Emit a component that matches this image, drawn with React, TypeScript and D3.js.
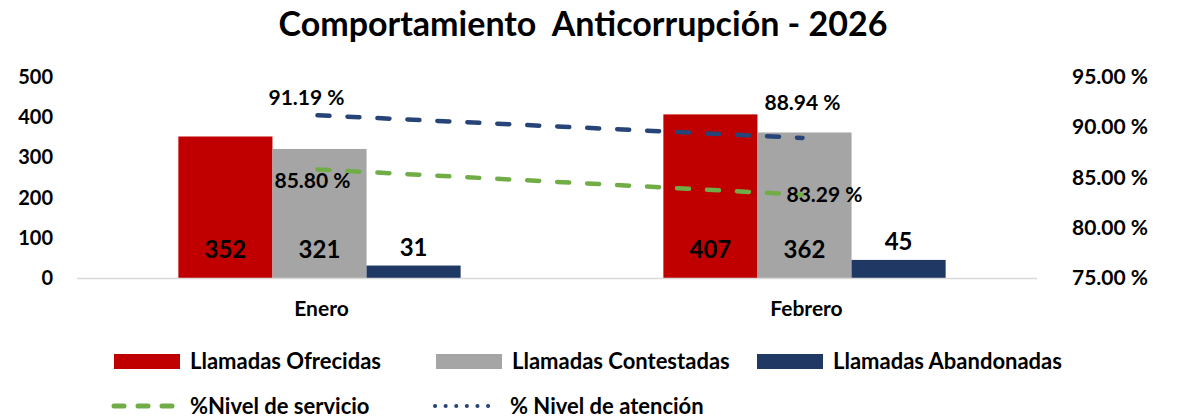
import React from "react";
import * as d3 from "d3";

const categories = ["Enero", "Febrero"];
const barSeries = ["Llamadas Ofrecidas", "Llamadas Contestadas", "Llamadas Abandonadas"];
const ofrecidas = [352, 407];
const contestadas = [321, 362];
const abandonadas = [31, 45];
const nivelServicio = [85.8, 83.29];
const nivelAtencion = [91.19, 88.94];
const leftTicks = [0, 100, 200, 300, 400, 500];
const rightTicks = [75, 80, 85, 90, 95];

const barColors = ["#c00000", "#a5a5a5", "#203864"];
const greenColor = "#70ad47";
const blueColor = "#264478";
const FONT = "Lato, 'Open Sans', sans-serif";

export default function App() {
  const W = 1178, H = 419;
  const left = 77, right = 1037, top = 77, bottom = 278;
  const x0 = d3.scaleBand<string>().domain(categories).range([77, 1047]).paddingInner(0.418).paddingOuter(0.209);
  const x1 = d3.scaleBand<string>().domain(barSeries).range([0, x0.bandwidth()]);
  const yL = d3.scaleLinear().domain([0, 500]).range([bottom, top]);
  const yR = d3.scaleLinear().domain([75, 95]).range([bottom, top]);
  const barData = [ofrecidas, contestadas, abandonadas];
  const cx = (c: string) => (x0(c) as number) + x0.bandwidth() / 2;
  const line = d3.line<number>().x((_, i) => cx(categories[i]) - 2).y((d) => yR(d));
  const dash = "12 18";

  return (
    <svg width={W} height={H} style={{ position: "absolute", left: 0, top: 0, background: "#fff" }} fontFamily={FONT} fontWeight="bold">
      <text x={583} y={36} textAnchor="middle" fontSize={34} fill="#000" style={{ whiteSpace: "pre" }}>
        {"Comportamiento  Anticorrupción - 2026"}
      </text>
      {leftTicks.map((t) => (
        <text key={"l" + t} x={53} y={yL(t) + 7} textAnchor="end" fontSize={20} fill="#000">{t}</text>
      ))}
      {rightTicks.map((t) => (
        <text key={"r" + t} x={1072} y={yR(t) + 7} textAnchor="start" fontSize={21} fill="#000">{t.toFixed(2) + " %"}</text>
      ))}
      {categories.map((c, ci) =>
        barSeries.map((s, si) => {
          const v = barData[si][ci];
          const x = (x0(c) as number) + (x1(s) as number);
          return (
            <rect key={c + s} x={x} y={yL(v)} width={x1.bandwidth()} height={bottom - yL(v)} fill={barColors[si]} />
          );
        })
      )}
      <line x1={left} x2={right} y1={bottom + 0.5} y2={bottom + 0.5} stroke="#d9d9d9" strokeWidth={1.5} />
      {categories.map((c, ci) =>
        barSeries.map((s, si) => {
          const v = barData[si][ci];
          const xc = (x0(c) as number) + (x1(s) as number) + x1.bandwidth() / 2;
          const y = si === 2 ? yL(v) - 10 : 258;
          return (
            <text key={"lab" + c + s} x={xc} y={y} textAnchor="middle" fontSize={24} fill="#000">{v}</text>
          );
        })
      )}
      <path d={line(nivelAtencion) as string} fill="none" stroke={blueColor} strokeWidth={4.5} strokeDasharray={dash} strokeLinecap="round" />
      <path d={line(nivelServicio) as string} fill="none" stroke={greenColor} strokeWidth={4.5} strokeDasharray={dash} strokeLinecap="round" />
      <text x={cx(categories[0]) - 13} y={yR(nivelAtencion[0]) - 10} textAnchor="middle" fontSize={21} fill="#000">{nivelAtencion[0].toFixed(2) + " %"}</text>
      <text x={cx(categories[1]) - 2} y={yR(nivelAtencion[1]) - 28} textAnchor="middle" fontSize={21} fill="#000">{nivelAtencion[1].toFixed(2) + " %"}</text>
      <text x={cx(categories[0]) - 7} y={yR(nivelServicio[0]) + 19} textAnchor="middle" fontSize={21} fill="#000">{nivelServicio[0].toFixed(2) + " %"}</text>
      <text x={cx(categories[1]) + 20} y={yR(nivelServicio[1]) + 7} textAnchor="middle" fontSize={21} fill="#000">{nivelServicio[1].toFixed(2) + " %"}</text>
      {categories.map((c) => (
        <text key={"cat" + c} x={cx(c) + 2} y={316} textAnchor="middle" fontSize={21} fill="#000">{c}</text>
      ))}
      {[
        { x: 114, t: barSeries[0], c: barColors[0] },
        { x: 436, t: barSeries[1], c: barColors[1] },
        { x: 757, t: barSeries[2], c: barColors[2] },
      ].map((l) => (
        <g key={l.t}>
          <rect x={l.x} y={354} width={66} height={15} fill={l.c} />
          <text x={l.x + 76} y={369} fontSize={22} fill="#000">{l.t}</text>
        </g>
      ))}
      <line x1={114} x2={176} y1={406} y2={406} stroke={greenColor} strokeWidth={5} strokeDasharray="10 14" strokeLinecap="round" />
      <text x={190} y={414} fontSize={22} fill="#000">%Nivel de servicio</text>
      <line x1={435} x2={497} y1={406} y2={406} stroke={blueColor} strokeWidth={4} strokeDasharray="0.1 10.5" strokeLinecap="round" />
      <text x={510} y={414} fontSize={22} fill="#000">% Nivel de atención</text>
    </svg>
  );
}
